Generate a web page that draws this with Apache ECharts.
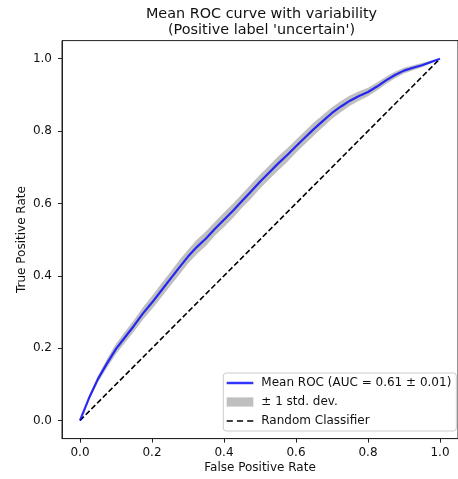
<!DOCTYPE html>
<html>
<head>
<meta charset="utf-8">
<script src="https://cdn.jsdelivr.net/npm/echarts@6/dist/echarts.min.js"></script>
<style>html,body{margin:0;padding:0;background:#fff;}#chart{width:458px;height:479px;}</style>
</head>
<body>
<div id="chart"></div>
<script>
// ---- data ----
const fpr = [0,0.025,0.05,0.075,0.1,0.125,0.15,0.175,0.2,0.225,0.25,0.275,0.3,0.325,0.35,0.375,0.4,0.425,0.45,0.475,0.5,0.525,0.55,0.575,0.6,0.625,0.65,0.675,0.7,0.725,0.75,0.775,0.8,0.825,0.85,0.875,0.9,0.925,0.95,0.975,1.0];
const meanTpr = [0,0.062,0.115,0.158,0.198,0.23,0.262,0.296,0.326,0.358,0.39,0.422,0.453,0.48,0.503,0.53,0.555,0.58,0.607,0.633,0.66,0.685,0.71,0.733,0.758,0.782,0.806,0.828,0.85,0.868,0.884,0.897,0.908,0.923,0.94,0.955,0.967,0.975,0.982,0.991,1.0];
const stdTpr = [0,0.006,0.009,0.012,0.014,0.015,0.016,0.017,0.018,0.019,0.019,0.02,0.019,0.02,0.02,0.019,0.02,0.02,0.019,0.02,0.019,0.019,0.02,0.019,0.018,0.018,0.018,0.017,0.016,0.015,0.014,0.013,0.012,0.011,0.01,0.009,0.008,0.007,0.006,0.004,0];
const chanceX = [0,1];
const chanceY = [0,1];
const xTicks = [0,0.2,0.4,0.6,0.8,1.0];
const yTicks = [0,0.2,0.4,0.6,0.8,1.0];
const titleText = "Mean ROC curve with variability\n(Positive label 'uncertain')";
const meanName = 'Mean ROC (AUC = 0.61 \u00b1 0.01)';
const bandName = '\u00b1 1 std. dev.';
const chanceName = 'Random Classifier';

// ---- derived series ----
const lower = meanTpr.map((v,i)=>Math.max(v-stdTpr[i],0));
const upper = meanTpr.map((v,i)=>Math.min(v+stdTpr[i],1));
const meanData = fpr.map((x,i)=>[x,meanTpr[i]]);
const chanceData = chanceX.map((x,i)=>[x,chanceY[i]]);
const bandData = fpr.map((x,i)=>[x,lower[i],upper[i]]);

const FONT = 'DejaVu Sans';
const BAND = 'rgba(128,128,128,0.5)';
const chart = echarts.init(document.getElementById('chart'), null, {renderer:'canvas'});
chart.setOption({
  animation:false,
  backgroundColor:'#fff',
  textStyle:{fontFamily:FONT},
  title:{
    text:titleText,
    left:261.5, top:6, padding:0,
    textAlign:'center',
    textStyle:{fontFamily:FONT,fontSize:14.4,fontWeight:'normal',color:'#111',lineHeight:16}
  },
  grid:{left:62, top:40.6, width:399, height:398, show:true, borderColor:'#222', borderWidth:1, containLabel:false},
  xAxis:{
    type:'value', min:-0.05, max:1.05,
    name:'False Positive Rate', nameLocation:'middle', nameGap:23, nameMoveOverlap:false,
    nameTextStyle:{fontFamily:FONT,fontSize:12,color:'#111'},
    axisLine:{show:true,onZero:false,lineStyle:{color:'#222',width:1}},
    axisTick:{show:true,length:4,lineStyle:{color:'#222'},customValues:xTicks},
    axisLabel:{fontFamily:FONT,fontSize:12,color:'#111',margin:8,customValues:xTicks,formatter:v=>Number(v).toFixed(1)},
    splitLine:{show:false}
  },
  yAxis:{
    type:'value', min:-0.05, max:1.05,
    name:'True Positive Rate', nameLocation:'middle', nameGap:34, nameMoveOverlap:false,
    nameTextStyle:{fontFamily:FONT,fontSize:12,color:'#111'},
    axisLine:{show:true,onZero:false,lineStyle:{color:'#222',width:1}},
    axisTick:{show:true,length:4,lineStyle:{color:'#222'},customValues:yTicks},
    axisLabel:{fontFamily:FONT,fontSize:12,color:'#111',margin:10,customValues:yTicks,formatter:v=>Number(v).toFixed(1)},
    splitLine:{show:false}
  },
  legend:{
    orient:'vertical', left:223.3, top:373,
    padding:[4,5,4,3.4],
    itemWidth:26.6, itemHeight:12, itemGap:7,
    backgroundColor:'rgba(255,255,255,0.8)', borderColor:'#cccccc', borderWidth:1, borderRadius:3,
    selectedMode:false,
    textStyle:{fontFamily:FONT,fontSize:12,color:'#111',padding:[0,0,0,3]},
    data:[
      {name:meanName, icon:'path://M0,0H26V2.4H0Z'},
      {name:bandName, icon:'path://M0,0H26V9H0Z'},
      {name:chanceName, icon:'path://M0,0H6V1.6H0Z M10,0H16V1.6H10Z M20,0H26V1.6H20Z'}
    ]
  },
  series:[
    {name:chanceName, type:'line', data:chanceData, symbol:'none', z:2,
     color:'#000', lineStyle:{color:'#000',width:1.6,type:[5.5,2.6]}},
    {name:bandName, type:'custom', coordinateSystem:'cartesian2d', z:3,
     color:BAND, itemStyle:{color:BAND},
     data:bandData, encode:{x:0,y:[1,2]},
     renderItem:function(params, api){
       if (params.dataIndex !== 0) return null;
       const top = bandData.map(d=>api.coord([d[0],d[2]]));
       const bot = bandData.map(d=>api.coord([d[0],d[1]])).reverse();
       return {type:'polygon', shape:{points:top.concat(bot)}, style:{fill:BAND, stroke:null}};
     }},
    {name:meanName, type:'line', data:meanData, symbol:'none', z:4,
     color:'rgba(0,0,255,0.8)', lineStyle:{color:'rgba(0,0,255,0.8)',width:2.2}}
  ]
});
</script>
</body>
</html>
